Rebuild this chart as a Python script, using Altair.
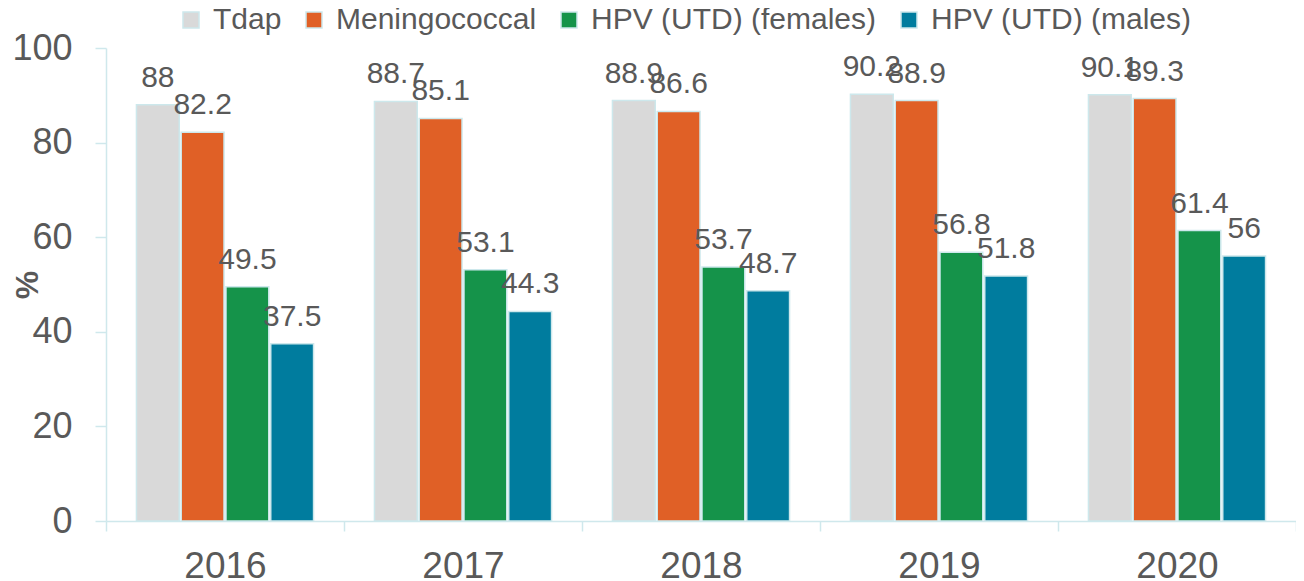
import altair as alt
import pandas as pd

years = ["2016", "2017", "2018", "2019", "2020"]
series = ["Tdap", "Meningococcal", "HPV (UTD) (females)", "HPV (UTD) (males)"]
tdap = [88, 88.7, 88.9, 90.2, 90.1]
mening = [82.2, 85.1, 86.6, 88.9, 89.3]
hpv_f = [49.5, 53.1, 53.7, 56.8, 61.4]
hpv_m = [37.5, 44.3, 48.7, 51.8, 56]
colors = ["#D9D9D9", "#E06026", "#15934A", "#007C9E"]
y_ticks = [0, 20, 40, 60, 80, 100]

rows = []
for s, vals in zip(series, [tdap, mening, hpv_f, hpv_m]):
    for yr, v in zip(years, vals):
        rows.append({"year": yr, "series": s, "value": v, "label": f"{v:g}"})
df = pd.DataFrame(rows)

FONT = "Liberation Sans"
TXT = "#595959"
AX = "#CFE8EC"
W, H = 1190, 473

base = alt.Chart(df).encode(
    x=alt.X(
        "year:N",
        title=None,
        sort=years,
        scale=alt.Scale(paddingInner=0, paddingOuter=0),
        axis=alt.Axis(
            labelAngle=0, tickBand="extent", labelFontSize=37, labelColor=TXT,
            labelFont=FONT, domainColor=AX, tickColor=AX, tickSize=10,
            labelPadding=17, domainWidth=1.5, tickWidth=1.5,
        ),
    ),
    xOffset=alt.XOffset(
        "series:N", sort=series,
        scale=alt.Scale(paddingInner=0.044, paddingOuter=0.68),
    ),
    y=alt.Y(
        "value:Q",
        title="%",
        scale=alt.Scale(domain=[0, 100]),
        axis=alt.Axis(
            values=y_ticks, grid=False, labelFontSize=36, labelColor=TXT,
            labelFont=FONT, domainColor=AX, tickColor=AX, tickSize=11,
            labelPadding=23, domainWidth=1.5, tickWidth=1.5,
            titleFontSize=32, titleFont=FONT, titleColor=TXT, titleFontWeight="bold",
            titleX=-79, titleY=H / 2, titleAngle=270, titleBaseline="middle", titleAlign="center",
        ),
    ),
)

bars = base.mark_bar(stroke="#CDE8EC", strokeWidth=1.5).encode(
    color=alt.Color(
        "series:N",
        sort=series,
        scale=alt.Scale(domain=series, range=colors),
        legend=alt.Legend(
            title=None, orient="none", legendX=70, legendY=-43, direction="horizontal",
            symbolType="square", symbolSize=256, symbolStrokeColor="#CDE8EC",
            symbolStrokeWidth=1.5, labelFontSize=30, labelFont=FONT, labelColor=TXT,
            columnPadding=17, labelOffset=7, labelLimit=0,
        ),
    ),
)

labels = base.mark_text(
    baseline="alphabetic", dy=-18, fontSize=30, color=TXT, font=FONT
).encode(text="label:N")

chart = (
    alt.layer(bars, labels)
    .properties(
        width=W, height=H,
        autosize=alt.AutoSizeParams(type="none"),
        padding={"top": 40, "left": 98, "right": 0, "bottom": 60},
        background="white",
    )
    .configure_view(stroke=None)
)

chart.save("out.html", embed_options={"renderer": "svg", "actions": False})
